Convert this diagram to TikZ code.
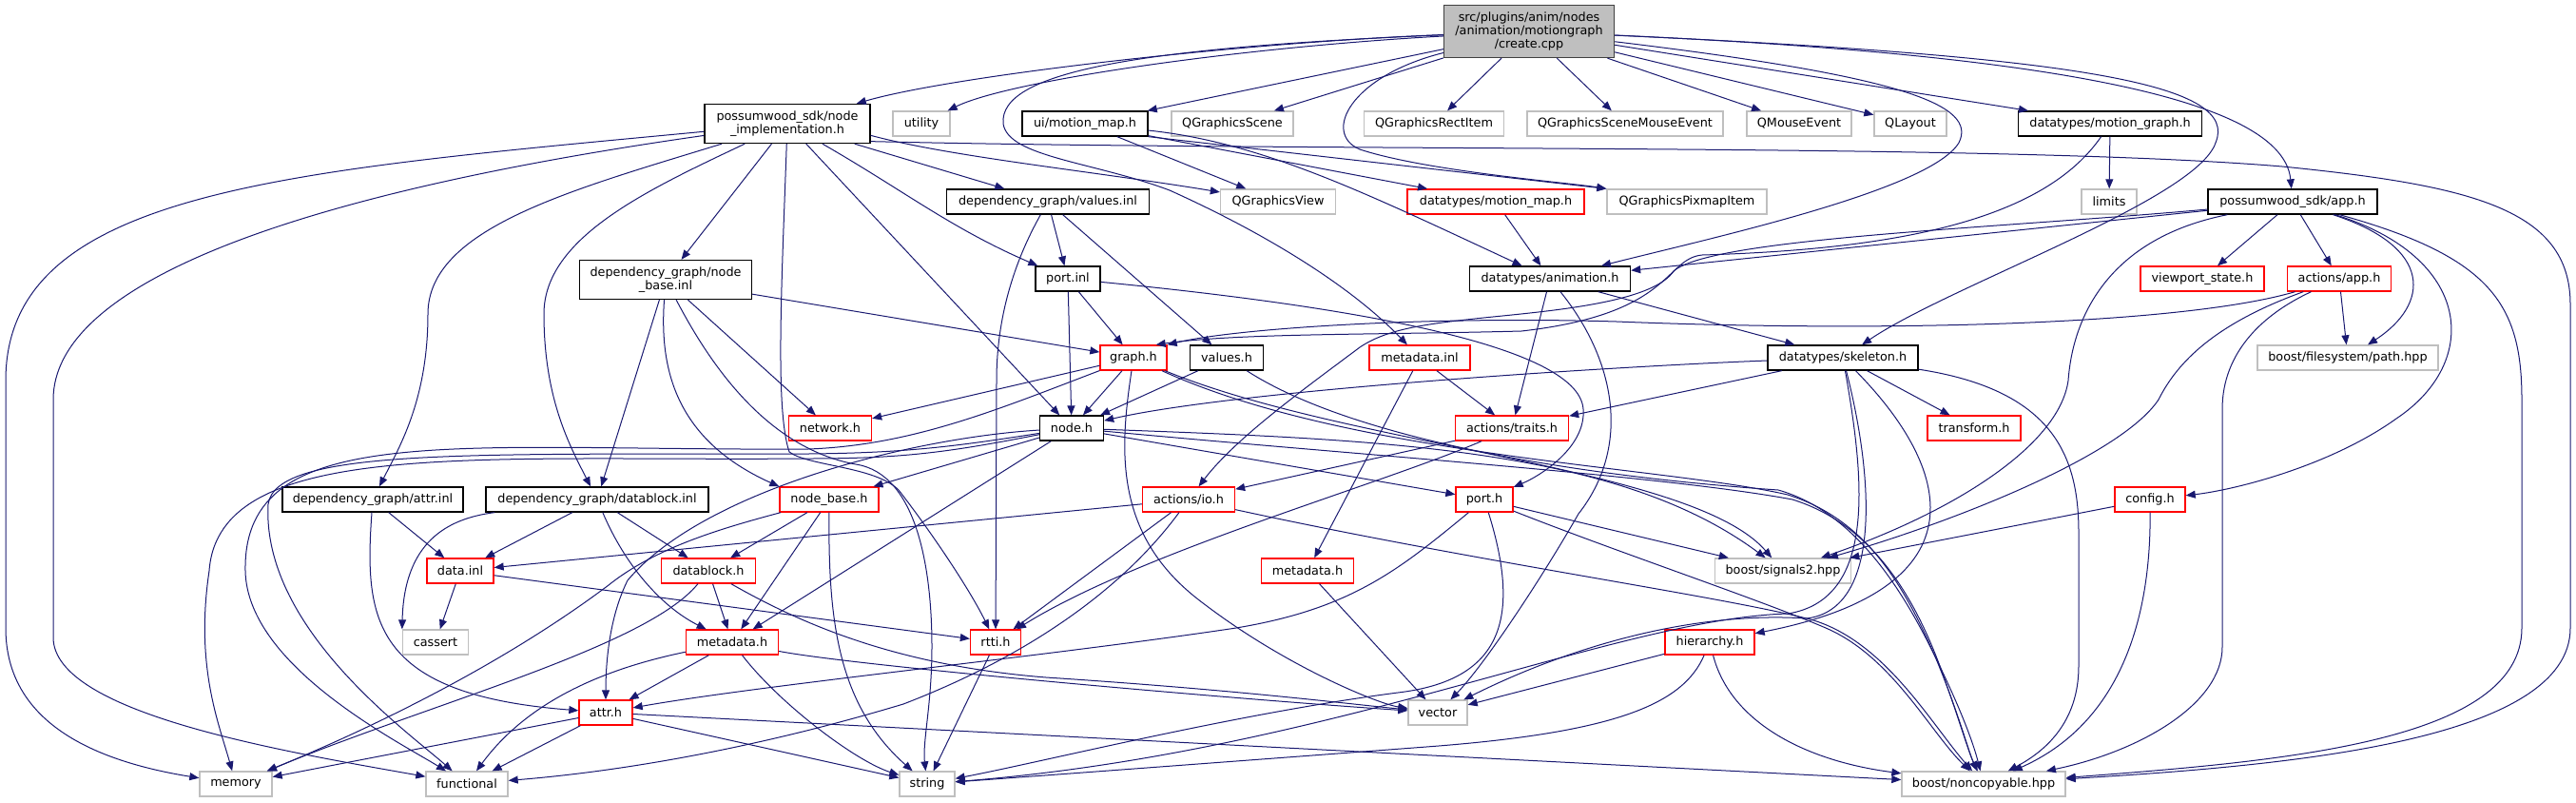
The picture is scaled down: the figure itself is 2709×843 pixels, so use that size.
\documentclass[tikz,border=0pt]{standalone}
\usepackage{fontspec}
\setmainfont{DejaVu Sans}
\usepackage{tikz}
\usetikzlibrary{arrows.meta}

\definecolor{edgeblue}{RGB}{25,25,112}
\definecolor{lightborder}{RGB}{191,191,191}
\definecolor{mainfill}{RGB}{191,191,191}
\definecolor{mainborder}{RGB}{64,64,64}

\tikzset{
  hdr/.style={draw=black, line width=1pt, fill=white, inner sep=0pt, align=center,
              minimum height=19.5pt, font=\fontsize{9.6}{10.7}\selectfont},
  syshdr/.style={hdr, draw=lightborder},
  trunchdr/.style={hdr, draw=red},
  srcfile/.style={hdr, draw=mainborder, fill=mainfill},
  bw/.style={minimum width=#1*0.75pt},
  dep/.style={draw=edgeblue, line width=0.75pt, -{Triangle[length=7.5pt,width=6pt]}}
}

\begin{document}
\begin{tikzpicture}[x=0.75pt, y=-0.75pt]
  \useasboundingbox (0,0) rectangle (2709,843);
  % the file itself
  \node[srcfile, bw=179, minimum height=41.25pt] (create) at (1608,33)
    {src/plugins/anim/nodes\\/animation/motiongraph\\/create.cpp};
  % rank 1
  \node[hdr, bw=174, minimum height=30.75pt] (nimpl) at (828,130) {possumwood\_sdk/node\\\_implementation.h};
  \node[syshdr, bw=60] (utility) at (969,130) {utility};
  \node[hdr, bw=132] (uimm) at (1141,130) {ui/motion\_map.h};
  \node[syshdr, bw=128] (qscene) at (1296,130) {QGraphicsScene};
  \node[syshdr, bw=147] (qrect) at (1508,130) {QGraphicsRectItem};
  \node[syshdr, bw=206] (qsme) at (1709,130) {QGraphicsSceneMouseEvent};
  \node[syshdr, bw=110] (qmouse) at (1892,130) {QMouseEvent};
  \node[syshdr, bw=76] (qlayout) at (2009,130) {QLayout};
  \node[hdr, bw=193] (mgraph) at (2219,130) {datatypes/motion\_graph.h};
  % rank 2
  \node[hdr, bw=213] (valinl) at (1102,212) {dependency\_graph/values.inl};
  \node[syshdr, bw=121] (qview) at (1344,212) {QGraphicsView};
  \node[trunchdr, bw=186] (mmap) at (1573,212) {datatypes/motion\_map.h};
  \node[syshdr, bw=168] (qpix) at (1774,212) {QGraphicsPixmapItem};
  \node[syshdr, bw=58] (limits) at (2218,212) {limits};
  \node[hdr, bw=178] (app) at (2411,212) {possumwood\_sdk/app.h};
  % rank 3
  \node[hdr, bw=181, minimum height=30.75pt] (nbinl) at (700,294) {dependency\_graph/node\\\_base.inl};
  \node[hdr, bw=68] (portinl) at (1123,293) {port.inl};
  \node[hdr, bw=169] (anim) at (1630,293) {datatypes/animation.h};
  \node[trunchdr, bw=130] (vstate) at (2316,293) {viewport\_state.h};
  \node[trunchdr, bw=109] (aapp) at (2460,293) {actions/app.h};
  % rank 4
  \node[trunchdr, bw=70] (graph) at (1192,376) {graph.h};
  \node[hdr, bw=77] (valh) at (1290,376) {values.h};
  \node[trunchdr, bw=106] (mdinl) at (1493,376) {metadata.inl};
  \node[hdr, bw=158] (skel) at (1938,376) {datatypes/skeleton.h};
  \node[syshdr, bw=190] (bfs) at (2469,376) {boost/filesystem/path.hpp};
  % rank 5
  \node[trunchdr, bw=87] (network) at (873,450) {network.h};
  \node[hdr, bw=67] (nodeh) at (1127,450) {node.h};
  \node[trunchdr, bw=119] (traits) at (1590,450) {actions/traits.h};
  \node[trunchdr, bw=98] (transform) at (2076,450) {transform.h};
  % rank 6
  \node[hdr, bw=190] (attrinl) at (392,525) {dependency\_graph/attr.inl};
  \node[hdr, bw=234] (dbinl) at (628,525) {dependency\_graph/datablock.inl};
  \node[trunchdr, bw=104] (nbase) at (872,525) {node\_base.h};
  \node[trunchdr, bw=97] (io) at (1250,525) {actions/io.h};
  \node[trunchdr, bw=60] (porth) at (1561,525) {port.h};
  \node[trunchdr, bw=74] (config) at (2261,525) {config.h};
  % rank 7
  \node[trunchdr, bw=70] (datainl) at (484,600) {data.inl};
  \node[trunchdr, bw=99] (dbh) at (745,600) {datablock.h};
  \node[trunchdr, bw=97] (mdh2) at (1375,600) {metadata.h};
  \node[syshdr, bw=143] (sig) at (1875,600) {boost/signals2.hpp};
  % rank 8
  \node[syshdr, bw=69] (cassert) at (458,675) {cassert};
  \node[trunchdr, bw=97] (mdh) at (770,675) {metadata.h};
  \node[trunchdr, bw=53] (rtti) at (1047,675) {rtti.h};
  \node[trunchdr, bw=94] (hier) at (1798,675) {hierarchy.h};
  % rank 9
  \node[trunchdr, bw=56] (attrh) at (637,749) {attr.h};
  \node[syshdr, bw=62] (vector) at (1512,749) {vector};
  % rank 10
  \node[syshdr, bw=76] (memory) at (248,824) {memory};
  \node[syshdr, bw=86] (functional) at (491,824) {functional};
  \node[syshdr, bw=58] (string) at (975,824) {string};
  \node[syshdr, bw=172] (noncopy) at (2086,824) {boost/noncopyable.hpp};

  % straight includes
  \foreach \src/\dst in {create/uimm, create/qscene, create/qrect, create/qsme, create/qmouse,
      create/qlayout, create/mgraph, nimpl/nbinl, nimpl/nodeh, nimpl/valinl, uimm/qview,
      uimm/mmap, mmap/anim, mgraph/limits, app/anim, app/vstate, app/aapp, aapp/bfs,
      valinl/portinl, valinl/valh, portinl/graph, portinl/nodeh, nbinl/graph, nbinl/network,
      nbinl/dbinl, graph/network, graph/nodeh, valh/nodeh, anim/traits, anim/skel,
      skel/traits, skel/transform, mdinl/traits, mdinl/mdh2, traits/io, nodeh/nbase,
      nodeh/porth, nodeh/mdh, io/datainl, io/rtti, porth/sig, config/sig, attrinl/datainl,
      dbinl/datainl, dbinl/dbh, datainl/cassert, datainl/rtti, nbase/dbh, nbase/mdh,
      dbh/mdh, mdh/attrh, mdh2/vector, rtti/string, attrh/memory, attrh/functional,
      attrh/string, attrh/noncopy, hier/vector}
    \draw[dep] (\src) -- (\dst);
  \draw[dep] (uimm.south east) -- (qpix.north west);

  % create.cpp
  \draw[dep] (create) .. controls (1300,45) and (1000,80) .. (nimpl);
  \draw[dep] (create) .. controls (1300,50) and (1060,85) .. (utility);
  \draw[dep] (create) .. controls (2100,55) and (2400,95) .. (app);
  \draw[dep] (create) .. controls (1420,80) and (1390,140) .. (1430,157)
    .. controls (1500,180) and (1650,192) .. (qpix);
  \draw[dep] (create) .. controls (1200,50) and (1050,75) .. (1055,130)
    .. controls (1060,165) and (1150,170) .. (1230,200)
    .. controls (1330,245) and (1420,300) .. (mdinl);
  \draw[dep] (create) .. controls (2000,80) and (2080,110) .. (2060,150)
    .. controls (2030,200) and (1800,250) .. (anim);
  \draw[dep] (create) .. controls (2200,60) and (2355,90) .. (2330,150)
    .. controls (2310,210) and (2050,300) .. (skel);

  % node_implementation.h
  \draw[dep] (nimpl) .. controls (300,180) and (6,200) .. (6,400) -- (6,660)
    .. controls (6,760) and (100,800) .. (memory);
  \draw[dep] (nimpl) .. controls (300,205) and (56,300) .. (56,420) -- (56,670)
    .. controls (56,750) and (300,790) .. (functional);
  \draw[dep] (nimpl) .. controls (600,200) and (450,240) .. (450,330)
    .. controls (450,420) and (420,470) .. (attrinl);
  \draw[dep] (nimpl) .. controls (680,200) and (572,250) .. (572,330)
    .. controls (572,420) and (600,470) .. (dbinl);
  \draw[dep] (nimpl) .. controls (950,200) and (1000,240) .. (portinl);
  \draw[dep] (nimpl.352) .. controls (1000,165) and (1150,180) .. (qview);
  \draw[dep] (nimpl) .. controls (822,300) and (815,430) .. (830,475)
    .. controls (850,490) and (920,490) .. (945,515)
    .. controls (980,560) and (1020,620) .. (rtti);
  \draw[dep] (nimpl.348) .. controls (1400,160) and (2100,150) .. (2400,175)
    .. controls (2600,195) and (2703,220) .. (2703,320) -- (2703,660)
    .. controls (2703,780) and (2400,805) .. (noncopy);

  % ui and datatypes
  \draw[dep] (uimm) .. controls (1330,150) and (1440,205) .. (anim);
  \draw[dep] (mgraph) .. controls (2150,230) and (2000,262) .. (1790,268)
    .. controls (1750,272) and (1760,330) .. (1600,348)
    .. controls (1450,352) and (1300,350) .. (graph.30);
  \draw[dep] (anim) .. controls (1700,380) and (1715,470) .. (1660,540)
    .. controls (1620,610) and (1560,700) .. (vector);

  % possumwood_sdk/app.h and actions/app.h
  \draw[dep] (app) .. controls (2100,240) and (1800,250) .. (1760,285)
    .. controls (1740,315) and (1650,325) .. (1580,332)
    .. controls (1500,340) and (1460,345) .. (1430,365)
    .. controls (1370,410) and (1300,460) .. (io);
  \draw[dep] (app) .. controls (2560,260) and (2555,320) .. (bfs);
  \draw[dep] (app) .. controls (2220,250) and (2180,330) .. (2175,400)
    .. controls (2165,470) and (2050,540) .. (sig);
  \draw[dep] (app) .. controls (2600,270) and (2610,380) .. (2520,440)
    .. controls (2450,490) and (2350,515) .. (config);
  \draw[dep] (app) .. controls (2620,270) and (2652,320) .. (2652,420) -- (2652,660)
    .. controls (2652,780) and (2400,800) .. (noncopy);
  \draw[dep] (aapp) .. controls (2300,340) and (2000,350) .. (1700,338)
    .. controls (1500,332) and (1300,345) .. (graph.north east);
  \draw[dep] (aapp) .. controls (2330,340) and (2290,380) .. (2270,420)
    .. controls (2230,480) and (2050,550) .. (sig);
  \draw[dep] (aapp) .. controls (2380,330) and (2337,370) .. (2337,430) -- (2337,680)
    .. controls (2337,740) and (2250,790) .. (noncopy);
  \draw[dep] (config) .. controls (2262,650) and (2230,760) .. (noncopy);

  % dependency_graph inl files
  \draw[dep] (valinl) .. controls (1075,260) and (1048,320) .. (1048,400) -- (rtti);
  \draw[dep] (portinl) .. controls (1400,320) and (1660,360) .. (1665,430)
    .. controls (1668,470) and (1620,500) .. (porth);
  \draw[dep] (nbinl) .. controls (694,380) and (705,460) .. (nbase.north west);
  \draw[dep] (nbinl) .. controls (740,370) and (800,470) .. (900,488)
    .. controls (965,498) and (980,600) .. (980,680)
    .. controls (980,740) and (970,780) .. (string);
  \draw[dep] (attrinl) .. controls (383,650) and (390,730) .. (attrh);
  \draw[dep] (dbinl) .. controls (470,545) and (425,570) .. (cassert.north west);
  \draw[dep] (dbinl) .. controls (660,600) and (700,640) .. (mdh);

  % graph.h, values.h and node.h
  \draw[dep] (graph) .. controls (1420,470) and (1780,490) .. (sig);
  \draw[dep] (graph) .. controls (1178,470) and (1170,560) .. (1260,630)
    .. controls (1350,700) and (1450,740) .. (vector);
  \draw[dep] (graph) .. controls (1420,480) and (1750,490) .. (1880,520)
    .. controls (1960,545) and (2000,610) .. (2035,690)
    .. controls (2060,750) and (2070,790) .. (noncopy);
  \draw[dep] (graph) .. controls (1050,430) and (960,468) .. (850,472)
    .. controls (480,474) and (255,440) .. (258,600)
    .. controls (260,700) and (420,780) .. (functional);
  \draw[dep] (valh) .. controls (1420,460) and (1650,500) .. (1870,515)
    .. controls (1940,535) and (1990,600) .. (2030,680)
    .. controls (2060,740) and (2075,780) .. (noncopy);
  \draw[dep] (nodeh) .. controls (1450,462) and (1700,470) .. (sig);
  \draw[dep] (nodeh) .. controls (1450,480) and (1750,500) .. (1885,525)
    .. controls (1965,550) and (2010,620) .. (2040,700)
    .. controls (2060,755) and (2070,790) .. (noncopy);
  \draw[dep] (nodeh) .. controls (960,460) and (740,515) .. (660,610)
    .. controls (640,650) and (637,700) .. (attrh);
  \draw[dep] (nodeh) .. controls (1000,470) and (950,476) .. (850,477)
    .. controls (500,478) and (290,470) .. (282,530)
    .. controls (275,660) and (430,770) .. (functional);
  \draw[dep] (nodeh) .. controls (1000,475) and (950,482) .. (850,482)
    .. controls (500,485) and (230,460) .. (220,600)
    .. controls (205,700) and (230,760) .. (memory);

  % actions and skeleton
  \draw[dep] (traits) .. controls (1450,510) and (1200,580) .. (rtti);
  \draw[dep] (io) .. controls (1180,620) and (1080,690) .. (950,740)
    .. controls (750,800) and (600,815) .. (functional);
  \draw[dep] (io) .. controls (1550,590) and (1800,625) .. (1900,650)
    .. controls (1980,670) and (2030,760) .. (noncopy);
  \draw[dep] (skel) .. controls (1700,385) and (1300,410) .. (nodeh);
  \draw[dep] (skel) .. controls (2060,500) and (2080,620) .. (hier);
  \draw[dep] (skel) .. controls (1970,500) and (1980,640) .. (1900,650)
    .. controls (1780,642) and (1650,680) .. (vector);
  \draw[dep] (skel) .. controls (1960,500) and (1975,630) .. (1880,645)
    .. controls (1700,650) and (1400,790) .. (string);
  \draw[dep] (skel) .. controls (2160,410) and (2186,480) .. (2186,560) -- (2186,700)
    .. controls (2186,760) and (2150,790) .. (noncopy);

  % port.h, hierarchy.h and the lower headers
  \draw[dep] (porth) .. controls (1470,600) and (1420,640) .. (1300,660)
    .. controls (1100,690) and (800,720) .. (attrh);
  \draw[dep] (porth) .. controls (1600,650) and (1580,715) .. (1470,728)
    .. controls (1300,750) and (1100,800) .. (string);
  \draw[dep] (porth) .. controls (1700,580) and (1850,630) .. (1920,660)
    .. controls (1990,690) and (2030,770) .. (noncopy);
  \draw[dep] (hier) .. controls (1770,740) and (1700,770) .. (1500,785)
    .. controls (1300,800) and (1100,815) .. (string);
  \draw[dep] (hier) .. controls (1820,760) and (1900,800) .. (noncopy);
  \draw[dep] (nbase) .. controls (760,555) and (690,575) .. (640,615)
    .. controls (500,720) and (330,790) .. (memory);
  \draw[dep] (nbase) .. controls (871,650) and (880,740) .. (string);
  \draw[dep] (dbh) .. controls (680,680) and (450,740) .. (memory);
  \draw[dep] (dbh) .. controls (850,660) and (950,700) .. (1100,712)
    .. controls (1300,725) and (1420,740) .. (vector);
  \draw[dep] (mdh) .. controls (650,700) and (560,730) .. (functional);
  \draw[dep] (mdh) .. controls (820,740) and (900,800) .. (string);
  \draw[dep] (mdh) .. controls (900,700) and (1300,735) .. (vector);
\end{tikzpicture}
\end{document}
